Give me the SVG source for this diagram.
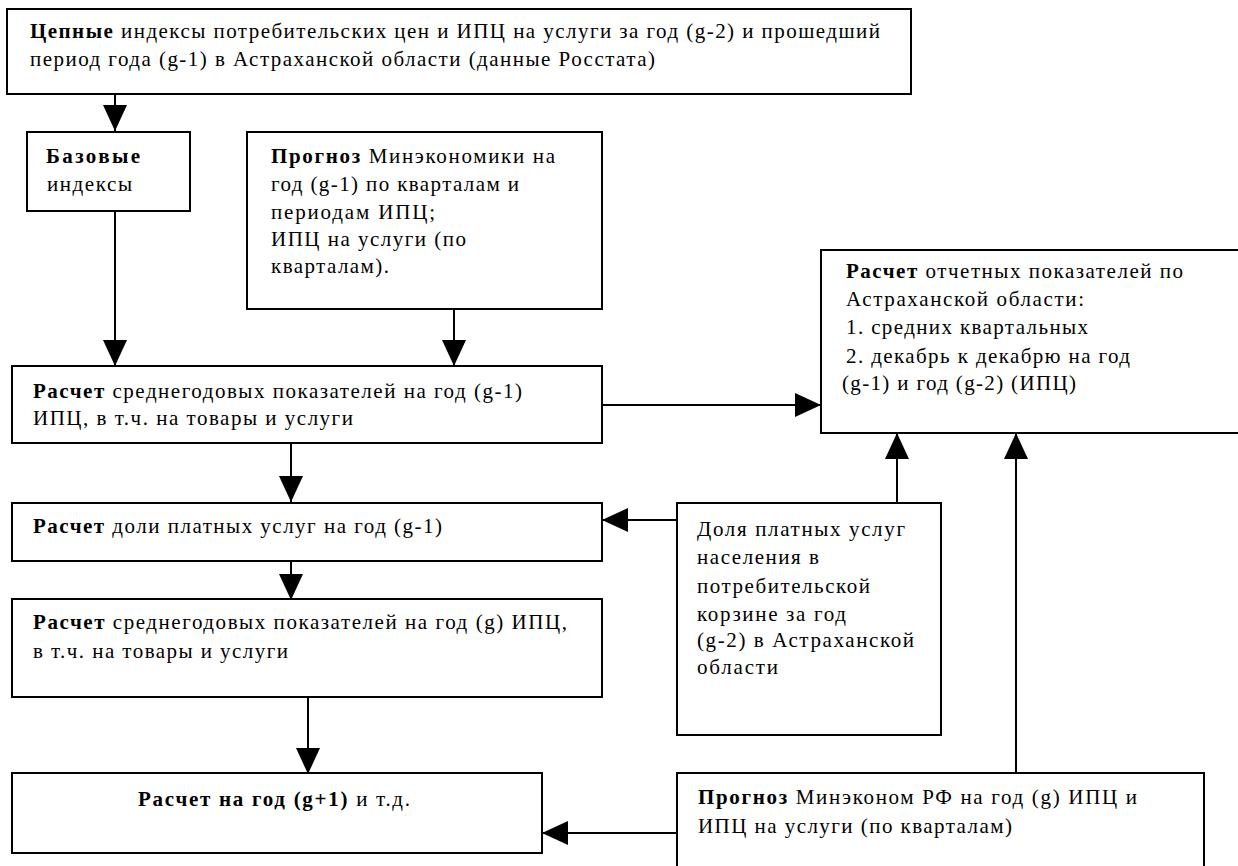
<svg xmlns="http://www.w3.org/2000/svg" width="1238" height="866" viewBox="0 0 1238 866">
<style>
.box{fill:#fff;stroke:#000;stroke-width:2}
.t{font-family:"Liberation Serif","Times New Roman",serif;font-size:21px;fill:#000}
.b{font-weight:bold}
.c{stroke:#000;stroke-width:2;fill:none}
</style>
<defs>
<marker id="ah" markerWidth="26" markerHeight="24" refX="26" refY="12" orient="auto" markerUnits="userSpaceOnUse">
<path d="M0,0 L26,12 L0,24 z" fill="#000"/>
</marker>
</defs>
<rect width="1238" height="866" fill="#fff"/>
<g id="connectors">
<line class="c" x1="115" y1="94" x2="115" y2="131" marker-end="url(#ah)"/>
<line class="c" x1="115" y1="211" x2="115" y2="366" marker-end="url(#ah)"/>
<line class="c" x1="454" y1="309" x2="454" y2="366" marker-end="url(#ah)"/>
<line class="c" x1="602" y1="405" x2="821" y2="405" marker-end="url(#ah)"/>
<line class="c" x1="291" y1="443" x2="291" y2="502" marker-end="url(#ah)"/>
<line class="c" x1="291" y1="561" x2="291" y2="600" marker-end="url(#ah)"/>
<line class="c" x1="677" y1="520" x2="602" y2="520" marker-end="url(#ah)"/>
<line class="c" x1="897" y1="503" x2="897" y2="433" marker-end="url(#ah)"/>
<line class="c" x1="1016" y1="773" x2="1016" y2="433" marker-end="url(#ah)"/>
<line class="c" x1="308" y1="697" x2="308" y2="774" marker-end="url(#ah)"/>
<line class="c" x1="677" y1="833" x2="542" y2="833" marker-end="url(#ah)"/>
</g>
<g id="n-chain">
<rect class="box" x="7" y="9" width="904" height="85"/>
<text class="t" x="30" y="38" textLength="850" lengthAdjust="spacing"><tspan class="b">Цепные</tspan> индексы потребительских цен и ИПЦ на услуги за год (g-2) и прошедший</text>
<text class="t" x="30" y="66" textLength="625" lengthAdjust="spacing">период года (g-1) в Астраханской области (данные Росстата)</text>
</g>
<g id="n-base">
<rect class="box" x="27" y="132" width="163" height="79"/>
<text class="t b" x="46" y="163" textLength="94" lengthAdjust="spacing">Базовые</text>
<text class="t" x="47" y="191" textLength="85" lengthAdjust="spacing">индексы</text>
</g>
<g id="n-forecast1">
<rect class="box" x="247" y="132" width="355" height="177"/>
<text class="t" x="271" y="163" textLength="284" lengthAdjust="spacing"><tspan class="b">Прогноз</tspan> Минэкономики на</text>
<text class="t" x="271" y="191" textLength="248" lengthAdjust="spacing">год (g-1) по кварталам и</text>
<text class="t" x="271" y="219" textLength="164" lengthAdjust="spacing">периодам ИПЦ;</text>
<text class="t" x="271" y="246" textLength="195" lengthAdjust="spacing">ИПЦ на услуги (по</text>
<text class="t" x="271" y="273" textLength="118" lengthAdjust="spacing">кварталам).</text>
</g>
<g id="n-report">
<rect class="box" x="821" y="250" width="430" height="183"/>
<text class="t" x="846" y="278" textLength="337" lengthAdjust="spacing"><tspan class="b">Расчет</tspan> отчетных показателей по</text>
<text class="t" x="846" y="306" textLength="238" lengthAdjust="spacing">Астраханской области:</text>
<text class="t" x="846" y="334" textLength="242" lengthAdjust="spacing">1. средних квартальных</text>
<text class="t" x="846" y="363" textLength="284" lengthAdjust="spacing">2. декабрь к декабрю на год</text>
<text class="t" x="842" y="390" textLength="234" lengthAdjust="spacing">(g-1) и год (g-2) (ИПЦ)</text>
</g>
<g id="n-calc1">
<rect class="box" x="12" y="366" width="590" height="77"/>
<text class="t" x="33" y="398" textLength="489" lengthAdjust="spacing"><tspan class="b">Расчет</tspan> среднегодовых показателей на год (g-1)</text>
<text class="t" x="33" y="425" textLength="320" lengthAdjust="spacing">ИПЦ, в т.ч. на товары и услуги</text>
</g>
<g id="n-share">
<rect class="box" x="12" y="503" width="590" height="58"/>
<text class="t" x="33" y="533" textLength="409" lengthAdjust="spacing"><tspan class="b">Расчет</tspan> доли платных услуг на год (g-1)</text>
</g>
<g id="n-calc2">
<rect class="box" x="12" y="599" width="590" height="98"/>
<text class="t" x="33" y="629" textLength="534" lengthAdjust="spacing"><tspan class="b">Расчет</tspan> среднегодовых показателей на год (g) ИПЦ,</text>
<text class="t" x="33" y="658" textLength="255" lengthAdjust="spacing">в т.ч. на товары и услуги</text>
</g>
<g id="n-sharedata">
<rect class="box" x="677" y="503" width="264" height="232"/>
<text class="t" x="697" y="536" textLength="208" lengthAdjust="spacing">Доля платных услуг</text>
<text class="t" x="697" y="564" textLength="122" lengthAdjust="spacing">населения в</text>
<text class="t" x="697" y="593" textLength="173" lengthAdjust="spacing">потребительской</text>
<text class="t" x="697" y="621" textLength="149" lengthAdjust="spacing">корзине за год</text>
<text class="t" x="697" y="647" textLength="217" lengthAdjust="spacing">(g-2) в Астраханской</text>
<text class="t" x="697" y="674" textLength="81" lengthAdjust="spacing">области</text>
</g>
<g id="n-calc3">
<rect class="box" x="12" y="773" width="530" height="80"/>
<text class="t" x="138" y="806" textLength="272" lengthAdjust="spacing"><tspan class="b">Расчет на год (g+1)</tspan> и т.д.</text>
</g>
<g id="n-forecast2">
<rect class="box" x="677" y="773" width="527" height="110"/>
<text class="t" x="698" y="804" textLength="439" lengthAdjust="spacing"><tspan class="b">Прогноз</tspan> Минэконом РФ на год (g) ИПЦ и</text>
<text class="t" x="698" y="833" textLength="314" lengthAdjust="spacing">ИПЦ на услуги (по кварталам)</text>
</g>
</svg>
